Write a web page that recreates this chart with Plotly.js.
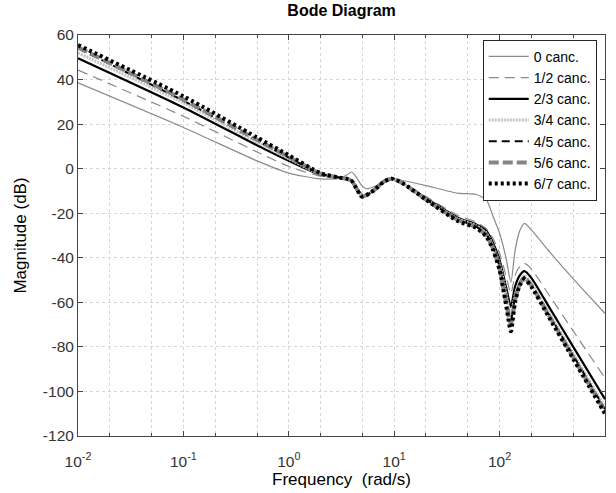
<!DOCTYPE html>
<html>
<head>
<meta charset="utf-8">
<script src="https://cdn.plot.ly/plotly-3.0.1.min.js"></script>
<style>html,body{margin:0;padding:0;background:#fff;}#chart{width:616px;height:493px;}</style>
</head>
<body>
<div id="chart"></div>
<script>
// Frequency samples (rad/s)
const freq = [0.01, 0.1, 0.5, 1, 2, 3, 3.5, 3.95, 4.4, 4.9, 5.4, 6.5, 8, 9.5, 12, 20, 40, 60, 75, 86, 100, 115, 128, 140, 155, 172, 200, 300, 500, 1000];

// Magnitudes (dB) for each series
const canc0  = [38.5, 18.5, 3.5, -2, -4.6, -4.4, -3, -1.5, -4, -7.5, -9, -8, -5.5, -4.5, -5.3, -7.6, -11, -11.6, -14, -21, -29, -40, -51, -37, -28, -24.6, -27.5, -37.5, -49.5, -65];
const canc12 = [44.3, 23.5, 7.5, 1, -3.4, -4, -4.3, -5, -8.5, -11, -11.5, -9.5, -5.8, -4.5, -6.3, -12.5, -21, -24, -27, -31, -38, -48, -56, -48, -44, -42.5, -45, -57.3, -72.9, -94];
const canc23 = [49.6, 27.5, 10.5, 3.5, -2.8, -4, -4.5, -5.3, -9, -12, -12, -9.5, -5.8, -4.5, -6.5, -13.2, -22, -25, -28, -33, -41, -53, -62, -53, -48, -46, -49, -62.7, -80, -103.5];
const canc34 = [52, 29.5, 11.8, 4.5, -2.5, -4, -4.5, -5.5, -9, -12.3, -12, -9.5, -5.8, -4.5, -6.5, -13.6, -22.5, -25.6, -29, -34.5, -43, -56, -66, -57, -51, -48, -51.5, -65.5, -83.1, -107];
const canc45 = [54, 30.5, 12.7, 5, -2.3, -4, -4.5, -5.5, -9, -12.4, -12, -9.5, -5.8, -4.5, -6.5, -13.8, -22.8, -26, -29.5, -35, -44, -58, -68, -58, -51.5, -48.5, -52, -66.1, -83.9, -108];
const canc56 = [54.5, 31, 13, 5.3, -2.2, -4, -4.5, -5.5, -9, -12.5, -12, -9.5, -5.8, -4.5, -6.5, -13.9, -23, -26.3, -30, -35.5, -45, -60, -70, -59, -52, -49, -52.5, -66.7, -84.7, -109];
const canc67 = [55.5, 32.5, 14, 6, -2, -4, -4.5, -5.5, -9, -12.5, -12, -9.5, -5.8, -4.5, -6.5, -13.9, -23.5, -26.6, -30.5, -36, -45.5, -61, -73, -60, -52.5, -49.5, -53, -67.4, -85.4, -110];

const seriesNames = ["0 canc.", "1/2 canc.", "2/3 canc.", "3/4 canc.", "4/5 canc.", "5/6 canc.", "6/7 canc."];

// Tick labels
const xTickVals = [0.01, 0.1, 1, 10, 100, 1000];
const xTickText = ["10<sup>-2</sup>", "10<sup>-1</sup>", "10<sup>0</sup>", "10<sup>1</sup>", "10<sup>2</sup>", "10<sup>3</sup>"];
const yTickVals = [-120, -100, -80, -60, -40, -20, 0, 20, 40, 60];
const yTickText = ["-120", "-100", "-80", "-60", "-40", "-20", "0", "20", "40", "60"];

const ys = [canc0, canc12, canc23, canc34, canc45, canc56, canc67];
const styles = [
  {color: "#8a8a8a", width: 1.2, dash: "solid"},
  {color: "#8a8a8a", width: 1.2, dash: "10px,6px"},
  {color: "#000000", width: 2.2, dash: "solid"},
  {color: "#c4c4c4", width: 3, dash: "2px,1px"},
  {color: "#000000", width: 2, dash: "8px,5px"},
  {color: "#858585", width: 4, dash: "10px,4px"},
  {color: "#000000", width: 4, dash: "3px,3px"}
];

const traces = ys.map((y, i) => ({
  x: freq, y: y, type: "scatter", mode: "lines", name: seriesNames[i],
  line: Object.assign({shape: "spline", smoothing: 0.6}, styles[i])
}));

const gridCol = "#d6d6d6";
const layout = {
  width: 616, height: 493,
  margin: {l: 78, r: 11, t: 35, b: 57},
  paper_bgcolor: "#fff", plot_bgcolor: "#fff",
  font: {family: "Liberation Sans, Arial, sans-serif", size: 14, color: "#262626"},
  title: {text: "<b>Bode Diagram</b>", x: 0.5545, xanchor: "center", y: 0.978, yref: "container", yanchor: "middle",
          font: {size: 16, color: "#000"}},
  showlegend: true,
  legend: {x: 0.768, y: 0.988, xanchor: "left", yanchor: "top", bgcolor: "#fff",
           bordercolor: "#262626", borderwidth: 1, font: {size: 14, color: "#000"},
           itemwidth: 40, tracegroupgap: 0},
  xaxis: {
    type: "log", range: [-2, 3], tickvals: xTickVals, ticktext: xTickText,
    showline: true, linecolor: "#444", linewidth: 1, mirror: "ticks",
    ticks: "inside", ticklen: 5, tickcolor: "#444", ticklabelstandoff: 11,
    showgrid: true, gridcolor: gridCol, griddash: "dot", gridwidth: 1,
    minor: {showgrid: true, gridcolor: gridCol, griddash: "dot", ticks: "inside", ticklen: 3, tickcolor: "#444"},
    zeroline: false,
    tickfont: {size: 15.5, color: "#333"},
    title: {text: "Frequency\u00a0\u00a0(rad/s)", font: {size: 17, color: "#000"}, standoff: 0}
  },
  yaxis: {
    range: [-120, 60], tickvals: yTickVals, ticktext: yTickText,
    showline: true, linecolor: "#444", linewidth: 1, mirror: "ticks",
    ticks: "inside", ticklen: 5, tickcolor: "#444",
    showgrid: true, gridcolor: gridCol, griddash: "dot", gridwidth: 1,
    zeroline: false,
    tickfont: {size: 15.5, color: "#333"},
    title: {text: "Magnitude (dB)", font: {size: 17, color: "#000"}, standoff: 11}
  }
};

Plotly.newPlot("chart", traces, layout, {displayModeBar: false, staticPlot: true});
</script>
</body>
</html>
